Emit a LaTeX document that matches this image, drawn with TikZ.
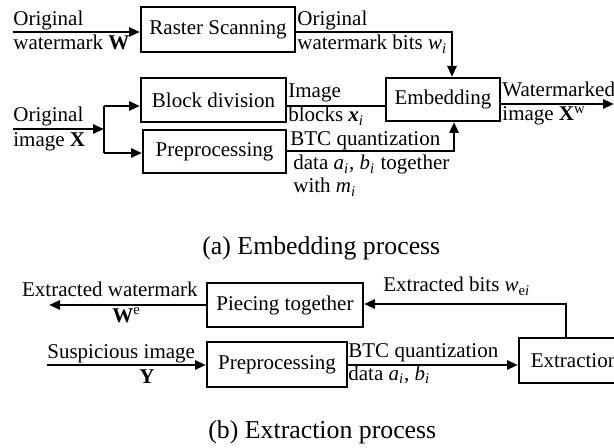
\documentclass[tikz,border=0pt]{standalone}
\usepackage{fontspec}
\setmainfont{Liberation Serif}
\usetikzlibrary{arrows.meta}
\newcommand{\mysub}[1]{\textsubscript{#1}}
\begin{document}
\begin{tikzpicture}[x=0.5pt,y=-0.5pt,
 box/.style={draw, line width=1pt, inner sep=0pt, font=\fontsize{10.5}{12}\selectfont},
 lbl/.style={inner sep=0pt, anchor=base west, font=\fontsize{10.5}{12}\selectfont},
 captxt/.style={inner sep=0pt, anchor=base west, font=\fontsize{12.9}{15}\selectfont},
 conn/.style={line width=1.4pt},
 arr/.style={conn, -{Triangle[length=5.5pt,width=4.5pt]}}]
\clip (0,0) rectangle (614,448);
\fill[white] (0,0) rectangle (614,448);
% boxes
\node[box, minimum width=77pt, minimum height=22.5pt] (rs) at (218,29.5) {Raster Scanning};
\node[box, minimum width=57pt, minimum height=21.5pt] (emb) at (443,99.5) {Embedding};
\node[box, minimum width=72.5pt, minimum height=22pt] (bd) at (213.5,100) {Block division};
\node[box, minimum width=71.5pt, minimum height=21.5pt] (pp) at (214.5,151.5) {Preprocessing};
\node[box, minimum width=78pt, minimum height=22pt] (pt) at (285,305) {Piecing together};
\node[box, minimum width=70pt, minimum height=22.5pt] (pp2) at (277,364.5) {Preprocessing};
\node[box, minimum width=55.5pt, minimum height=22.5pt] (ex) at (574.5,360.5) {Extraction};
% coordinates
\coordinate (inW) at (13,32);
\coordinate (rsT) at (452,32);
\coordinate (inX) at (13,129);
\coordinate (split) at (104,129);
\coordinate (sU) at (104,106);
\coordinate (sD) at (104,153);
\coordinate (ppT) at (454,151);
\coordinate (out) at (614,104);
\coordinate (outW) at (49,305);
\coordinate (inY) at (47,365);
\coordinate (exT) at (566,304);
% connectors
\draw[arr] (inW) -- (inW -| rs.west);
\draw[arr] (rs.east |- rsT) -- (rsT) -- (rsT |- emb.north);
\draw[arr] (inX) -- (split);
\draw[conn] (sU) -- (sD);
\draw[arr] (sU) -- (sU -| bd.west);
\draw[arr] (sD) -- (sD -| pp.west);
\draw[conn] (bd.east |- 0,106) -- (emb.west |- 0,106);
\draw[arr] (pp.east |- ppT) -- (ppT) -- (ppT |- emb.south);
\draw[arr] (emb.east |- out) -- (out);
\draw[arr] (pt.west |- outW) -- (outW);
\draw[arr] (inY) -- (inY -| pp2.west);
\draw[arr] (pp2.east |- inY) -- (ex.west |- inY);
\draw[arr] (exT |- ex.north) -- (exT) -- (exT -| pt.east);
% labels
\node[lbl] (l1) at (13,26) {Original};
\node[lbl] (l2) at (13,50) {watermark \textbf{W}};
\node[lbl] (l3) at (297,26) {Original};
\node[lbl] (l4) at (297,50) {watermark bits \textit{w}\mysub{\textit{i}}};
\node[lbl] (l5) at (13,122) {Original};
\node[lbl] (l6) at (13,147) {image \textbf{X}};
\node[lbl] (l7) at (288,98) {Image};
\node[lbl] (l8) at (288,122) {blocks \textbf{\textit{x}}\mysub{\textit{i}}};
\node[lbl] (l9) at (290,146) {BTC quantization};
\node[lbl] (l10) at (293,170) {data \textit{a}\mysub{\textit{i}}, \textit{b}\mysub{\textit{i}} together};
\node[lbl] (l11) at (293,193) {with \textit{m}\mysub{\textit{i}}};
\node[lbl] (l12) at (502,97) {Watermarked};
\node[lbl] (l13) at (502,121) {image \textbf{X}\textsuperscript{w}};
\node[captxt] (capa) at (202,255) {(a) Embedding process};
\node[lbl, anchor=base east] (l14) at (198,296) {Extracted watermark};
\node[lbl] (l15) at (112,322) {\textbf{W}\textsuperscript{e}};
\node[lbl] (l16) at (47,358) {Suspicious image};
\node[lbl] (l17) at (139,383) {\textbf{Y}};
\node[lbl] (l18) at (348,357) {BTC quantization};
\node[lbl] (l19) at (348,380) {data \textit{a}\mysub{\textit{i}}, \textit{b}\mysub{\textit{i}}};
\node[lbl] (l20) at (383,292) {Extracted bits \textit{w}\mysub{e\textit{i}}};
\node[captxt] (capb) at (208,438) {(b) Extraction process};
\end{tikzpicture}
\end{document}
